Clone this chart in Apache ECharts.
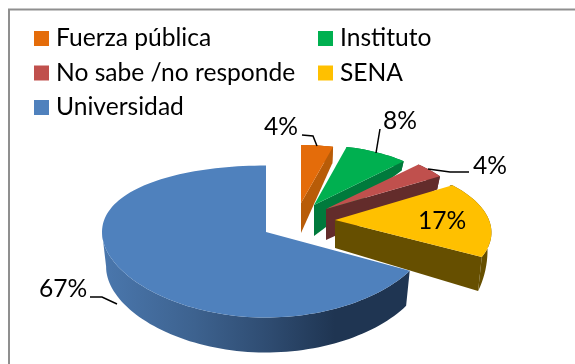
<!DOCTYPE html>
<html>
<head>
<meta charset="utf-8">
<script src="https://cdn.jsdelivr.net/npm/echarts@6/dist/echarts.min.js"></script>
<style>html,body{margin:0;padding:0;background:#fff}#c{width:575px;height:364px}</style>
</head>
<body>
<div id="c"></div>
<script>
// Data
var categories = ['Fuerza pública', 'Instituto', 'No sabe /no responde', 'SENA', 'Universidad'];
var values = [4, 8, 4, 17, 67];

// Styles
var topColors = ['#e46c0a', '#00b050', '#c0504d', '#ffc000', '#4f81bd'];
var sideColors = ['#b85c08', '#007a3c', '#632c2b', '#664f00', '#1f3552'];
var FONT = 'Lato, Carlito, sans-serif';
var FS = 24.6;

// Projected geometry of each exploded slice (layout only).
var geometry = [
  {cx:301, cy:203, r0:129, r1:0,  s0:58,   s1:0,   dApex:30, d0:30, d1:14},
  {cx:314, cy:205, r0:131, r1:0,  s0:60,   s1:0,   dApex:31, d0:24, d1:20},
  {cx:326, cy:209, r0:135, r1:0,  s0:61,   s1:0,   dApex:31, d0:24, d1:20},
  {cx:335, cy:220, r0:154, r1:28, s0:71.3, s1:11.8,dApex:28, d0:8,  d1:54},
  {cx:266, cy:232, r0:164, r1:0,  s0:76,   s1:9.5, dApex:35, d0:35, d1:0}
];
var labelBoxes = [
  {x:281, y:127, line:[[302,135],[313,136],[317,146]]},
  {x:400, y:121, line:[[380,129],[376,153]]},
  {x:490, y:166, line:[[428,169],[450,172],[469,172]]},
  {x:442, y:221, line:null},
  {x:63,  y:289, line:[[90,297],[102,297],[117,304]]}
];

var total = values.reduce(function (a, b) { return a + b; }, 0);
var starts = [];
values.reduce(function (acc, v, i) { starts[i] = acc; return acc + v; }, 0);

function rim(g, deg) {
  var a = deg * Math.PI / 180, s = Math.sin(a), c = -Math.cos(a);
  return [g.cx + (g.r0 + g.r1 * c) * s, g.cy + (g.s0 + g.s1 * c) * c];
}
function lower(g, deg, pt) {
  var c = -Math.cos(deg * Math.PI / 180);
  var d = Math.max(0, g.d0 + g.d1 * c);
  return [g.cx + (pt[0] - g.cx) * 0.975, pt[1] + d];
}

function renderSlice(i) {
  var g = geometry[i];
  var a0 = starts[i] / total * 360, a1 = (starts[i] + values[i]) / total * 360;
  var n = Math.max(6, Math.round((a1 - a0) / 2));
  var top = [], bot = [];
  for (var k = 0; k <= n; k++) {
    var d = a0 + (a1 - a0) * k / n, p = rim(g, d);
    top.push(p);
    bot.push(lower(g, d, p));
  }
  var children = [];
  var wallFill = i === 4
    ? new echarts.graphic.LinearGradient(103, 0, 408, 0, [
        {offset: 0, color: '#4a77ad'}, {offset: 0.3, color: '#3d628f'},
        {offset: 0.55, color: '#2e4b70'}, {offset: 0.76, color: '#1f3552'}, {offset: 1, color: '#1f3552'}], true)
    : sideColors[i];
  var wallTop = [], wallBot = [];
  for (k = 0; k <= n; k++) {
    var dd = a0 + (a1 - a0) * k / n;
    if (i === 4 && dd > 272) continue;
    wallTop.push(top[k]); wallBot.push(bot[k]);
  }
  children.push({type: 'polygon', shape: {points: wallTop.concat(wallBot.slice().reverse())}, style: {fill: wallFill}});
  if (i < 4) {
    var apexLow = [g.cx, g.cy + g.dApex];
    children.push({type: 'polygon', shape: {points: [[g.cx, g.cy], top[n], bot[n], apexLow]}, style: {fill: sideColors[i]}});
  }
  children.push({type: 'polygon', shape: {points: [[g.cx, g.cy]].concat(top)}, style: {fill: topColors[i]}});
  var lb = labelBoxes[i];
  if (lb.line) children.push({type: 'polyline', shape: {points: lb.line}, style: {stroke: '#000', lineWidth: 1.5, fill: null}});
  children.push({type: 'text', style: {x: lb.x, y: lb.y, text: values[i] + '%', fill: '#000', font: FS + 'px ' + FONT, align: 'center', verticalAlign: 'middle'}});
  return {type: 'group', children: children};
}

var series = categories.map(function (name, i) {
  return {
    type: 'custom', name: name, coordinateSystem: 'none', animation: false, silent: true,
    z: 2 + i, itemStyle: {color: topColors[i]},
    data: [values[i]],
    renderItem: function () { return renderSlice(i); }
  };
});

var legendText = {fontFamily: FONT, fontSize: FS, color: '#000', lineHeight: 28, padding: [0, 0, 0, 2]};
var legendBase = {top: 24.5, padding: 0, orient: 'vertical', icon: 'rect', itemWidth: 15, itemHeight: 15, itemGap: 6.5,
  itemStyle: {borderWidth: 0}, selectedMode: false, textStyle: legendText};
var chart = echarts.init(document.getElementById('c'), null, {renderer: 'canvas'});
chart.setOption({
  animation: false,
  backgroundColor: '#fff',
  legend: [
    Object.assign({left: 34, data: [categories[0], categories[2], categories[4]]}, legendBase),
    Object.assign({left: 318, data: [categories[1], categories[3]]}, legendBase)
  ],
  graphic: [
    {type: 'polyline', silent: true, shape: {points: [[9, 364], [9, 9.5], [575, 9.5]]}, style: {stroke: '#8f8f8f', lineWidth: 2, fill: null}}
  ],
  series: series
});
</script>
</body>
</html>
